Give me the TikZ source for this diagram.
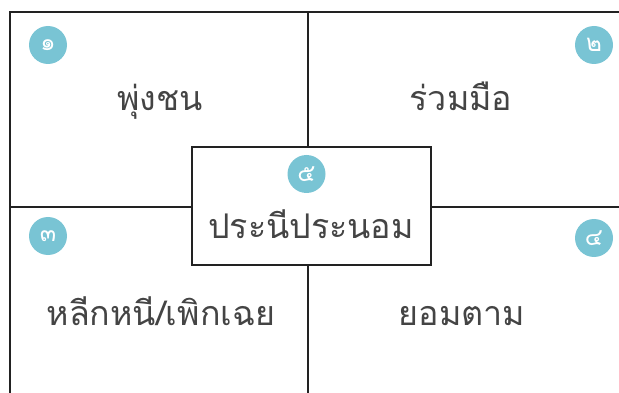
\documentclass[tikz,border=0pt]{standalone}
\usepackage{fontspec}
\newfontfamily\thaifont[Script=Thai]{Loma}
\definecolor{lineclr}{HTML}{222222}
\definecolor{txtclr}{HTML}{444444}
\definecolor{badge}{HTML}{79C4D4}
\begin{document}
\begin{tikzpicture}[x=1pt,y=-1pt,
  grid/.style={draw=lineclr,line width=2.5pt},
  lbl/.style={text=txtclr,font=\thaifont\fontsize{34}{38}\selectfont,anchor=base,inner sep=0pt},
  num/.style={circle,fill=badge,minimum size=38pt,inner sep=0pt,text=white,font=\thaifont\fontsize{24}{26}\selectfont}]
\useasboundingbox (0,0) rectangle (619,393);
\coordinate (tl) at (10,12);
\coordinate (tr) at (619,12);
\coordinate (bl) at (10,393);
\coordinate (tm) at (308,12);
\coordinate (bm) at (308,393);
\coordinate (ml) at (10,207);
\coordinate (mr) at (619,207);
\draw[grid] (bl) -- (tl) -- (tr);
\draw[grid] (tm) -- (bm);
\draw[grid] (ml) -- (mr);
\node[grid,fill=white,minimum width=239pt,minimum height=118pt,inner sep=0pt] (box) at (311.5,206) {};
\node[num] (n1) at (48,45) {๑};
\node[num] (n2) at (594,45) {๒};
\node[num] (n3) at (48,236) {๓};
\node[num] (n4) at (594,238) {๔};
\node[num] (n5) at (306.5,174) {๕};
\node[lbl] (t1) at (160,111) {พุ่งชน};
\node[lbl] (t2) at (461,111) {ร่วมมือ};
\node[lbl] (t3) at (161,325) {หลีกหนี/เพิกเฉย};
\node[lbl] (t4) at (462,325) {ยอมตาม};
\node[lbl] (t5) at (311,239) {ประนีประนอม};
\end{tikzpicture}
\end{document}
